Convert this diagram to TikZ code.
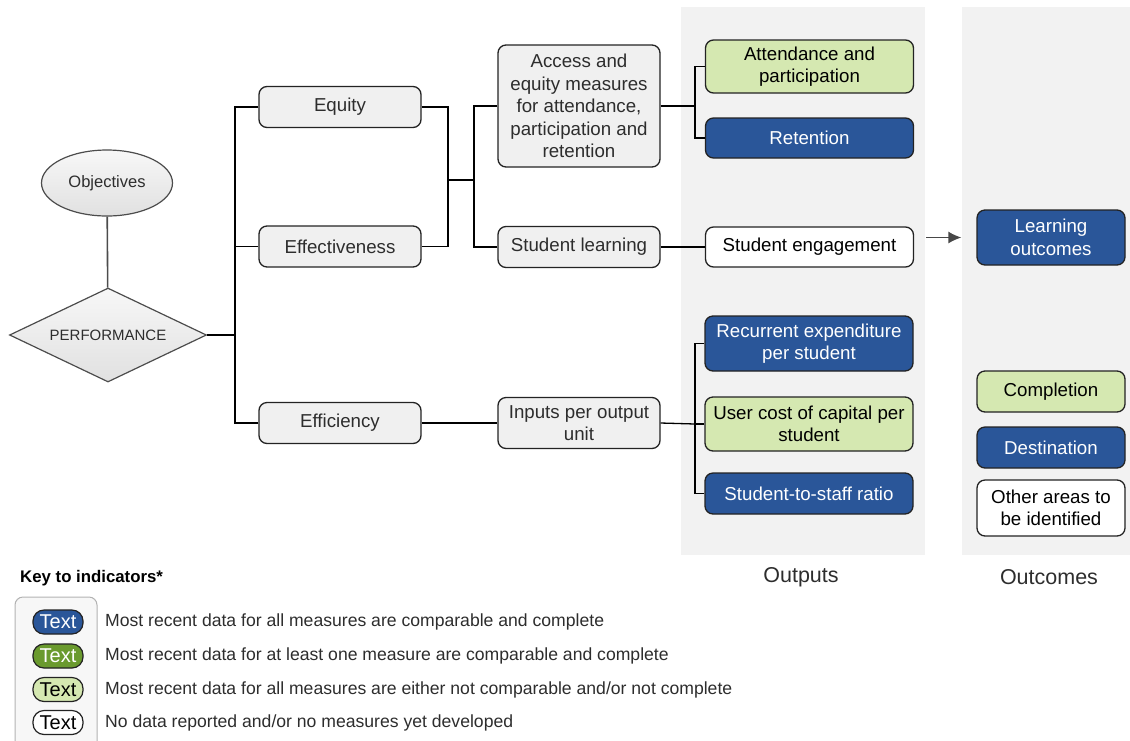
\documentclass[tikz,border=0pt]{standalone}
\usepackage{fontspec}
\setmainfont{Liberation Sans}
\usetikzlibrary{arrows.meta,positioning,shapes.geometric}
\definecolor{indblue}{RGB}{42,86,153}
\definecolor{indlgreen}{RGB}{213,232,177}
\definecolor{inddgreen}{RGB}{106,154,46}
\definecolor{boxgrey}{RGB}{240,240,240}
\definecolor{panelgrey}{RGB}{242,242,242}
\definecolor{edgegrey}{RGB}{35,35,35}
\definecolor{txtgrey}{RGB}{45,45,45}
\begin{document}
\begin{tikzpicture}[x=1pt,y=-1pt,>=Latex,
  ind/.style={draw=edgegrey,line width=1.3pt,rounded corners=8pt,align=center,inner sep=2pt,text=txtgrey,font=\fontsize{18.7}{22.5}\selectfont},
  greyind/.style={ind,fill=boxgrey,minimum width=162pt},
  blueind/.style={ind,fill=indblue,text=white},
  lgreenind/.style={ind,fill=indlgreen,text=black},
  whiteind/.style={ind,fill=white,text=black},
  outbox/.style={minimum width=208pt},
  oucbox/.style={minimum width=148pt},
  pill/.style={draw=edgegrey,line width=1.2pt,rounded corners=11pt,minimum width=50pt,minimum height=24pt,inner sep=0pt,font=\fontsize{20}{22}\selectfont},
  keytext/.style={anchor=west,inner sep=0pt,text=txtgrey,font=\fontsize{17.6}{20}\selectfont},
  link/.style={line width=1.3pt,black}]
\useasboundingbox (0,0) rectangle (1130,740);
\fill[panelgrey] (681,7) rectangle (925,555);
\fill[panelgrey] (962,7) rectangle (1130,555);
\node[ellipse,draw=black!70,line width=1.2pt,top color=black!3,bottom color=black!12,minimum width=131pt,minimum height=66pt,text=txtgrey,font=\fontsize{16.5}{19}\selectfont] (obj) at (107,183) {Objectives};
\node[diamond,shape aspect=2.1,draw=black!70,line width=1.2pt,top color=black!3,bottom color=black!12,minimum width=197pt,minimum height=94pt,inner sep=0pt,text=txtgrey,font=\fontsize{15}{18}\selectfont] (perf) at (108,335) {PERFORMANCE};
\node[greyind,minimum height=41pt] (equity) at (340,107) {Equity};
\node[greyind,minimum height=41pt] (effect) at (340,246.5) {Effectiveness};
\node[greyind,minimum height=41pt] (effic) at (340,423) {Efficiency};
\node[greyind,minimum height=122pt] (access) at (579,106) {Access and\\equity measures\\for attendance,\\participation and\\retention};
\node[greyind,minimum height=41pt] (learn) at (579,247) {Student learning};
\node[greyind,minimum height=51pt] (inputs) at (579,423) {Inputs per output\\unit};
\node[lgreenind,outbox,minimum height=53pt] (attend) at (809.5,66.5) {Attendance and\\participation};
\node[blueind,outbox,minimum height=40pt] (retent) at (809.5,138) {Retention};
\node[whiteind,outbox,minimum height=40pt] (engage) at (809.5,247) {Student engagement};
\node[blueind,outbox,minimum height=55pt] (recur) at (809,343.5) {Recurrent expenditure\\per student};
\node[lgreenind,outbox,minimum height=54pt] (usercost) at (809,424) {User cost of capital per\\student};
\node[blueind,outbox,minimum height=41pt] (ratio) at (809,493.5) {Student-to-staff ratio};
\node[blueind,oucbox,minimum height=55pt] (lout) at (1051,237.5) {Learning\\outcomes};
\node[lgreenind,oucbox,minimum height=41pt] (compl) at (1051,391.5) {Completion};
\node[blueind,oucbox,minimum height=41pt] (dest) at (1051,447.5) {Destination};
\node[whiteind,oucbox,minimum height=56pt] (other) at (1051,508) {Other areas to\\be identified};
\node[font=\fontsize{21.5}{25}\selectfont,text=txtgrey] (outlbl) at (801,577) {Outputs};
\node[font=\fontsize{21.5}{25}\selectfont,text=txtgrey] (ouclbl) at (1049,577) {Outcomes};
\coordinate (t0) at (235,335);
\coordinate (j1) at (448,180);
\coordinate (j2) at (474,180);
\coordinate (j3) at (695,106);
\coordinate (j4) at (695,424);
\draw[black!70,line width=1.6pt] (obj) -- (perf);
\draw[link] (perf.east) -- (t0);
\draw[link] (equity.west) -| (t0);
\draw[link] (effect.west) -| (t0);
\draw[link] (effic.west) -| (t0);
\draw[link] (equity.east) -| (j1);
\draw[link] (effect.east) -| (j1);
\draw[link] (j1) -- (j2);
\draw[link] (access.west) -| (j2);
\draw[link] (learn.west) -| (j2);
\draw[link] (access.east) -- (j3);
\draw[link] (attend.west) -| (j3);
\draw[link] (retent.west) -| (j3);
\draw[link] (learn) -- (engage);
\draw[link] (effic) -- (inputs);
\draw[link] (inputs.east) -- (j4);
\draw[link] (recur.west) -| (j4);
\draw[link] (usercost.west) -- (j4);
\draw[link] (ratio.west) -| (j4);
\draw[-{Latex[length=13pt,width=12pt]},line width=1.4pt,black!72] ([xshift=12pt]engage.east |- lout.west) -- ([xshift=-15pt]lout.west);
\node[anchor=west,inner sep=0pt,font=\bfseries\fontsize{16.8}{19}\selectfont] (keyhead) at (20,578) {Key to indicators*};
\draw[black!30,line width=1pt,fill=black!3,rounded corners=8pt] (15,760) -- (15,597) -- (97,597) -- (97,760);
\node[pill,fill=indblue,text=white] (k1) at (58,622) {Text};
\node[pill,fill=inddgreen,text=white] (k2) at (58,656) {Text};
\node[pill,fill=indlgreen,text=black] (k3) at (58,689.5) {Text};
\node[pill,fill=white,text=black] (k4) at (58,722.5) {Text};
\node[keytext] (t1) at (105,622) {Most recent data for all measures are comparable and complete};
\node[keytext] (t2) at (105,656) {Most recent data for at least one measure are comparable and complete};
\node[keytext] (t3) at (105,689.5) {Most recent data for all measures are either not comparable and/or not complete};
\node[keytext] (t4) at (105,722.5) {No data reported and/or no measures yet developed};
\end{tikzpicture}
\end{document}
